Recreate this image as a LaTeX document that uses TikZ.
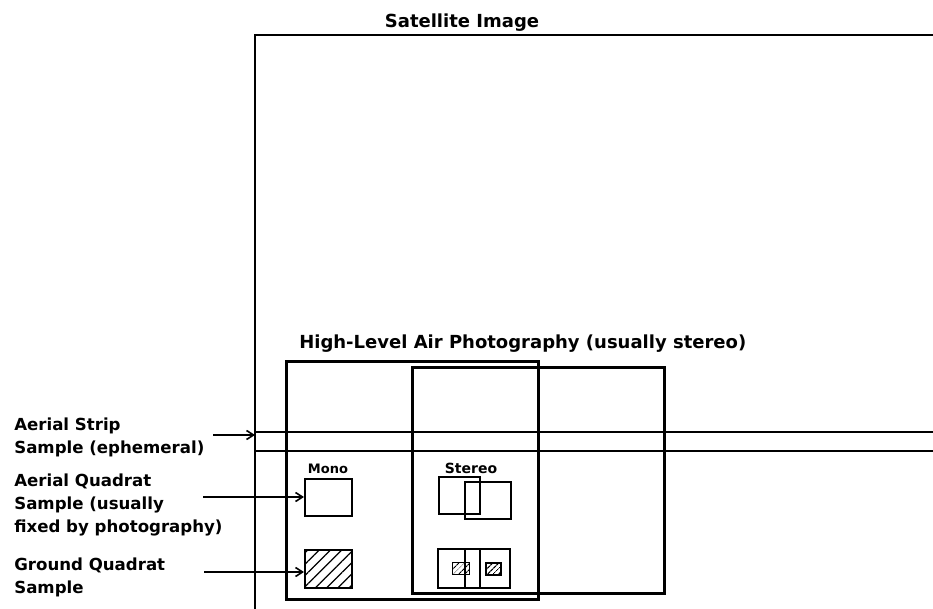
\documentclass[tikz,border=0pt]{standalone}
\usepackage{fontspec}
\setmainfont{DejaVu Sans}
\usepackage{tikz}
\usetikzlibrary{positioning,patterns.meta,arrows.meta}

\begin{document}
\begin{tikzpicture}[x=1pt, y=-1pt, line width=2.6pt,
    font=\bfseries\fontsize{18}{23}\selectfont,
    lbl/.style={align=left, anchor=north west, inner sep=0pt, font=\bfseries\fontsize{16.6}{23}\selectfont},
    photo/.style={draw, line width=2.6pt, inner sep=0pt, anchor=north west},
    quad/.style={draw, line width=2pt, inner sep=0pt, anchor=north west},
    hatch/.style={pattern={Lines[angle=45, distance=#1, line width=1.2pt]}},
    pointer/.style={-{Straight Barb[length=7pt, width=9pt]}, line width=1.6pt}]
  \useasboundingbox (0,0) rectangle (933,609);
  % satellite frame
  \coordinate (sat) at (255,35);
  \draw (933,35) -- (sat) -- (255,609);
  \node[anchor=base, inner sep=0pt] (satlbl) at (462,28) {Satellite Image};
  % strip
  \foreach \y in {432,451} {
    \draw (255,\y) -- (933,\y);}
  % photographs
  \node[anchor=base west, inner sep=0pt] (airlbl) at (298,348) {High-Level Air Photography (usually stereo)};
  \node[photo, minimum width=252, minimum height=238] (photoA) at (285,360) {};
  \node[photo, minimum width=252, minimum height=226] (photoB) at (411,366) {};
  % mono
  \node[anchor=base, inner sep=0pt, font=\bfseries\fontsize{13}{15}\selectfont] (monolbl) at (328,473) {Mono};
  \node[quad, minimum width=47, minimum height=37] (monoair) at (304,478) {};
  \node[quad, hatch=8pt, minimum width=47, minimum height=38] (monognd) at (304,549) {};
  % stereo
  \node[anchor=base, inner sep=0pt, font=\bfseries\fontsize{14}{15}\selectfont] (sterlbl) at (471,473) {Stereo};
  \node[quad, minimum width=41, minimum height=37] (sterairL) at (438,476) {};
  \node[quad, minimum width=46, minimum height=37] (sterairR) at (464,481) {};
  \node[quad, minimum width=42, minimum height=39] (stergndL) at (437,548) {};
  \node[quad, minimum width=45, minimum height=39] (stergndR) at (464,548) {};
  \node[quad, line width=1.6pt, hatch=4pt, minimum width=17, minimum height=12] (plotL) at (452,562) {};
  \node[quad, line width=1.6pt, hatch=4pt, minimum width=15, minimum height=12] (plotR) at (485,562) {};
  % labels at left
  \node[lbl] (striplbl) at (13,417) {Aerial Strip\\Sample (ephemeral)};
  \node[lbl] (aqlbl) at (13,473) {Aerial Quadrat\\Sample (usually\\fixed by photography)};
  \node[lbl] (gqlbl) at (13,557) {Ground Quadrat\\Sample};
  \coordinate (stripin) at (213,435);
  \coordinate (aqin) at (203,497);
  \coordinate (gqin) at (204,572);
  \draw[pointer] (stripin) -- (stripin -| sat);
  \draw[pointer] (aqin) -- (aqin -| monoair.west);
  \draw[pointer] (gqin) -- (gqin -| monognd.west);
\end{tikzpicture}
\end{document}
